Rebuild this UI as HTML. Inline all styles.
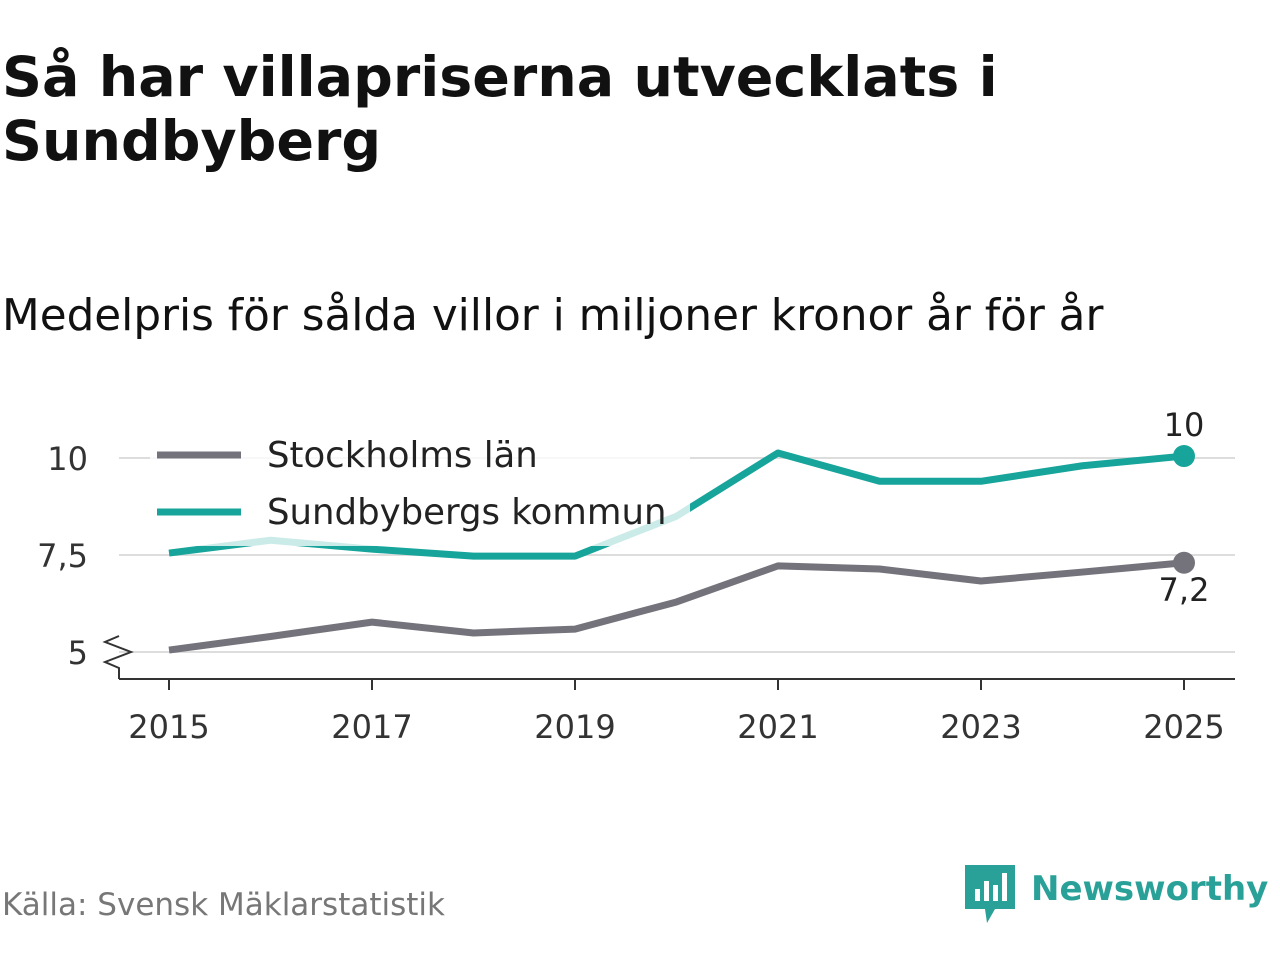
<!DOCTYPE html>
<html><head><meta charset="utf-8"><style>
body{margin:0;width:1280px;height:960px;background:#fff;font-family:"DejaVu Sans","Liberation Sans",sans-serif;overflow:hidden;position:relative}
h1{position:absolute;left:2px;top:46px;margin:0;font-size:55.5px;line-height:64px;font-weight:bold;color:#111}
.sub{position:absolute;left:2px;top:290px;font-size:43.7px;color:#111}
.src{position:absolute;left:2px;top:887px;font-size:31px;color:#777}
.logo{position:absolute;left:965px;top:865px;display:flex;align-items:center}
.logo span{font-size:34px;font-weight:bold;color:#2aa198;margin-left:16px;margin-top:-10px}
</style></head><body>
<h1>Så har villapriserna utvecklats i<br>Sundbyberg</h1>
<div class="sub">Medelpris för sålda villor i miljoner kronor år för år</div>
<svg id="chart" width="1280" height="960" style="position:absolute;left:0;top:0"></svg>
<div class="src">Källa: Svensk Mäklarstatistik</div>
<div class="logo">
<svg width="50" height="58" viewBox="0 0 50 58"><path d="M0 0H50V44H30L22 58L20 44H0Z" fill="#2aa198"/><rect x="10" y="24" width="5" height="12" fill="#fff"/><rect x="19" y="16" width="5" height="20" fill="#fff"/><rect x="28" y="20" width="5" height="16" fill="#fff"/><rect x="37" y="8" width="5" height="28" fill="#fff"/></svg>
<span>Newsworthy</span></div>
<script>
const years=[2015,2016,2017,2018,2019,2020,2021,2022,2023,2024,2025];
const sundbyberg=[7.55,7.88,7.65,7.47,7.47,8.5,10.13,9.4,9.4,9.8,10.05];
const stockholm=[5.05,5.4,5.77,5.49,5.59,6.29,7.22,7.14,6.83,7.06,7.3];
const yTicks=[5,7.5,10];
const yTickLabels=["5","7,5","10"];
const xTicks=[2015,2017,2019,2021,2023,2025];
const svg=document.getElementById('chart');
const NS='http://www.w3.org/2000/svg';
const X=v=>169+(v-2015)*101.5;
const Y=v=>458-(v-10)*38.8;
function mk(t,a){const e=document.createElementNS(NS,t);for(const k in a)e.setAttribute(k,a[k]);svg.appendChild(e);return e;}
yTicks.forEach((t,i)=>{
 const g=mk('line',{x1:119,x2:1235,y1:Y(t),y2:Y(t),stroke:'#ddd','stroke-width':2});
 
 
 const l=mk('text',{x:88,y:Y(t)+12,'text-anchor':'end','font-size':32,fill:'#333'});l.textContent=yTickLabels[i];
 
 
});
const ax=mk('path',{d:'M119 679H1235 M119 679V668 L105 662 L131 652 L105 642 L119 636',fill:'none',stroke:'#333','stroke-width':2});


xTicks.forEach(t=>{
 mk('line',{x1:X(t),x2:X(t),y1:679,y2:690,stroke:'#333','stroke-width':2});
 const l=mk('text',{x:X(t),y:738,'text-anchor':'middle','font-size':32,fill:'#333'});l.textContent=t;
 
 
});
function series(vals,color,name){
 const p=mk('polyline',{points:vals.map((v,i)=>X(years[i])+','+Y(v)).join(' '),fill:'none',stroke:color,'stroke-width':7,'stroke-linejoin':'round'});
 
 
}
series(stockholm,'#74737b','stockholm-line');
series(sundbyberg,'#16a49b','sundbyberg-line');
const bg=mk('rect',{x:150,y:428,width:540,height:118,fill:'#fff','fill-opacity':0.78});


const d1=mk('circle',{cx:X(2025),cy:Y(sundbyberg[10]),r:11,fill:'#16a49b'});


const d2=mk('circle',{cx:X(2025),cy:Y(stockholm[10]),r:11,fill:'#74737b'});


const t1=mk('text',{x:X(2025),y:Y(sundbyberg[10])-20,'text-anchor':'middle','font-size':32,fill:'#222'});t1.textContent='10';


const t2=mk('text',{x:X(2025),y:Y(stockholm[10])+38,'text-anchor':'middle','font-size':32,fill:'#222'});t2.textContent='7,2';


[['Stockholms län','#74737b',455],['Sundbybergs kommun','#16a49b',512]].forEach(([n,c,y])=>{
 const ln=mk('line',{x1:157,x2:241,y1:y,y2:y,stroke:c,'stroke-width':7});
 
 
 const t=mk('text',{x:267,y:y+12,'font-size':35.5,fill:'#222'});t.textContent=n;
 
 
});
</script>
</body></html>
